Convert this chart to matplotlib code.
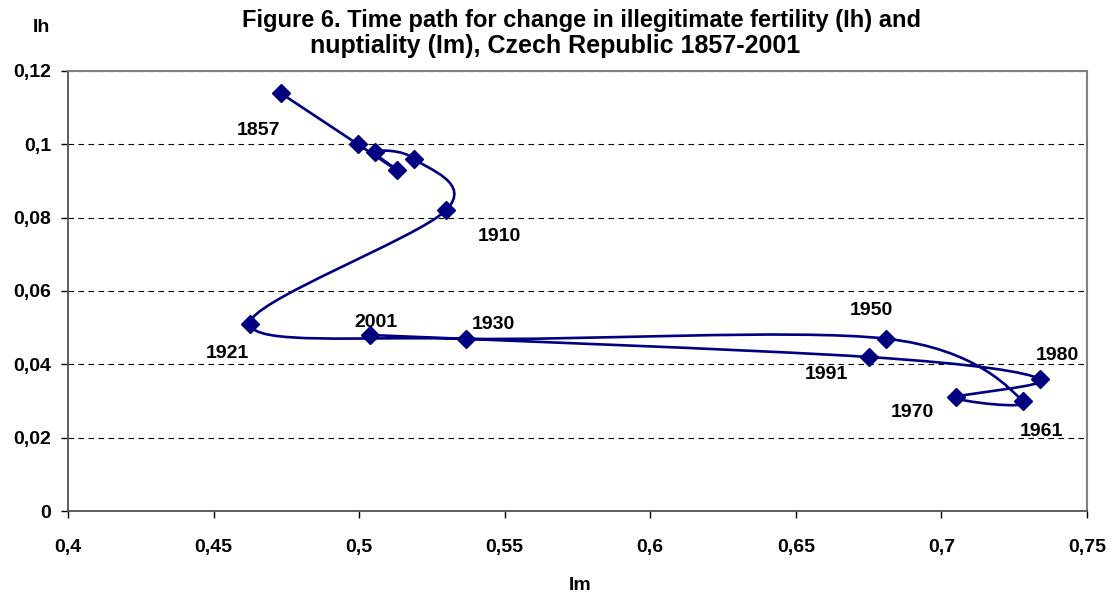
import numpy as np
import matplotlib
matplotlib.use("Agg")
import matplotlib.pyplot as plt
from matplotlib.path import Path
from matplotlib.patches import PathPatch
from matplotlib.ticker import FuncFormatter, MultipleLocator

plt.rcParams['font.family'] = ['Liberation Sans', 'DejaVu Sans']

years = [1857, 1869, 1880, 1890, 1900, 1910, 1921, 1930, 1950, 1961, 1970, 1980, 1991, 2001]
im = [0.473, 0.4996, 0.513, 0.5054, 0.519, 0.5298, 0.4625, 0.5366, 0.681, 0.728, 0.705, 0.734, 0.675, 0.5037]
ih = [0.114, 0.100, 0.093, 0.098, 0.096, 0.082, 0.051, 0.047, 0.047, 0.030, 0.031, 0.036, 0.042, 0.048]

labelled = {1857: (-22, 38), 1910: (53, 26), 1921: (-23, 30), 2001: (6, -12), 1930: (28, -14),
            1950: (-15, -28), 1991: (-42, 18), 1980: (17, -24), 1970: (-44, 15), 1961: (18, 30)}

fig = plt.figure(figsize=(11.15, 5.95), dpi=100)
W, H = 1115, 595
ax = fig.add_axes([68 / W, 1 - 511 / H, (1087 - 68) / W, (511 - 71) / H])

color = '#000080'
x = np.array(im)
y = np.array(ih)
n = len(x)
# Excel-style smoothed curve (cubic Bezier segments)
verts = [(x[0], y[0])]
codes = [Path.MOVETO]
for i in range(n - 1):
    p0 = np.array([x[max(i - 1, 0)], y[max(i - 1, 0)]])
    p1 = np.array([x[i], y[i]])
    p2 = np.array([x[i + 1], y[i + 1]])
    p3 = np.array([x[min(i + 2, n - 1)], y[min(i + 2, n - 1)]])
    c1 = p1 + (p2 - p0) / 6
    c2 = p2 - (p3 - p1) / 6
    verts += [tuple(c1), tuple(c2), tuple(p2)]
    codes += [Path.CURVE4] * 3
ax.add_patch(PathPatch(Path(verts, codes), facecolor='none', edgecolor=color, lw=1.9, zorder=3))
ax.plot(x, y, linestyle='none', marker='D', markersize=9.5, color=color, zorder=4)

for yr, xi, yi in zip(years, x, y):
    if yr in labelled:
        dx, dy = labelled[yr]
        ax.annotate(str(yr), (xi, yi), xytext=(dx, -dy), textcoords='offset pixels',
                    ha='center', va='center', fontsize=14, fontweight='bold')

ax.set_xlim(0.4, 0.75)
ax.set_ylim(0, 0.12)
ax.xaxis.set_major_locator(MultipleLocator(0.05))
ax.yaxis.set_major_locator(MultipleLocator(0.02))
fmt = lambda v, p: ('%g' % round(v, 3)).replace('.', ',')
ax.xaxis.set_major_formatter(FuncFormatter(fmt))
ax.yaxis.set_major_formatter(FuncFormatter(fmt))
for lbl in ax.get_xticklabels() + ax.get_yticklabels():
    lbl.set_fontweight('bold')
ax.tick_params(labelsize=14, length=5, width=1, color='black', direction='out')
ax.tick_params(axis='x', pad=15)
ax.tick_params(axis='y', pad=7)
ax.grid(axis='y', linestyle=(0, (5, 4)), color='black', lw=0.8)
ax.set_axisbelow(True)
for s in ['top', 'right']:
    ax.spines[s].set_color('#808080')
    ax.spines[s].set_linewidth(1.5)
for s in ['left', 'bottom']:
    ax.spines[s].set_color('#505050')
    ax.spines[s].set_linewidth(1.3)

fig.text(581 / W, 1 - 20 / H, 'Figure 6. Time path for change in illegitimate fertility (Ih) and',
         ha='center', va='center', fontsize=17, fontweight='bold')
fig.text(555 / W, 1 - 46 / H, 'nuptiality (Im), Czech Republic 1857-2001',
         ha='center', va='center', fontsize=18, fontweight='bold')
fig.text(41 / W, 1 - 27 / H, 'Ih', ha='center', va='center', fontsize=14, fontweight='bold')
fig.text(580 / W, 1 - 585 / H, 'Im', ha='center', va='center', fontsize=14, fontweight='bold')

fig.savefig('out.png', dpi=100)
